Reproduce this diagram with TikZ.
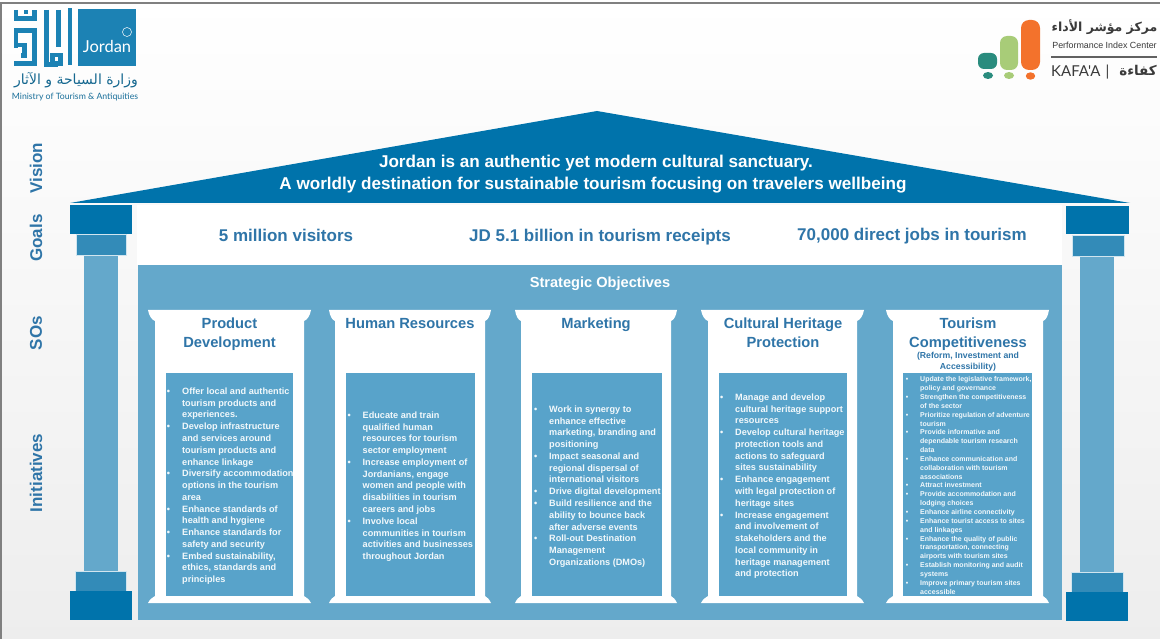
\documentclass[tikz,border=0pt]{standalone}
\usepackage{fontspec}
\setmainfont{Liberation Sans}
\newfontfamily\arabicfont[Script=Arabic]{DejaVu Sans}
\newfontfamily\logofont{Lato}
\TeXXeTstate=1
\definecolor{panelblue}{HTML}{64A8CB}
\definecolor{innerblue}{HTML}{58A3CA}
\definecolor{midblue}{HTML}{338BB8}
\definecolor{darkblue}{HTML}{0073AB}
\definecolor{titleblue}{HTML}{2F75A8}
\definecolor{logoblue}{HTML}{1C82B4}
\definecolor{framegray}{HTML}{808080}
\definecolor{greytext}{HTML}{3A3A3A}
\definecolor{kteal}{HTML}{2A8C7E}
\definecolor{kgreen}{HTML}{A8CC78}
\definecolor{korange}{HTML}{F3722C}
\tikzset{
  pillar/.style={draw=white!70!panelblue,line width=.5pt},
  goaltext/.style={font=\fontsize{17}{20}\selectfont\bfseries,text=titleblue,inner sep=0},
  rooftext/.style={font=\fontsize{17.1}{20}\selectfont\bfseries,text=white,inner sep=0},
  sidelabel/.style={font=\fontsize{17}{18}\selectfont\bfseries,text=titleblue,rotate=90,inner sep=0},
  coltitle/.style={font=\fontsize{14.7}{18.2}\selectfont\bfseries,text=titleblue,align=center,inner sep=0,anchor=north},
  bullets/.style={font=\fontsize{9.15}{11.77}\selectfont\bfseries,text=white!92!innerblue,align=left,inner sep=0,anchor=north west},
  smallbullets/.style={font=\fontsize{7}{8.85}\selectfont\bfseries,text=white!92!innerblue,align=left,inner sep=0,anchor=north west},
  kufic/.style={draw=logoblue,line width=4.8pt,line cap=butt,line join=miter},
}
\newcommand{\itm}[1]{\llap{\textbullet\hspace{#1}}}
% cap left, cap right, shaft left, shaft right, inner left, inner right
\newcommand{\templecolumn}[6]{
  \fill[white] (#1,310) -- (#2,310) .. controls (#2-1,316) and (#4+3,320) .. (#4,321)
    -- (#4,596) .. controls (#4+3,598) and (#2-2,599) .. (#2,603) -- (#1,603)
    .. controls (#1+2,599) and (#3-3,598) .. (#3,596) -- (#3,321)
    .. controls (#3-3,320) and (#1+1,316) .. (#1,310) -- cycle;
  \fill[innerblue] (#5,373) rectangle (#6,596);
}
\begin{document}
\begin{tikzpicture}[x=1pt,y=-1pt]
\useasboundingbox (0,0) rectangle (1160,639);
% page
\shade[top color=white,bottom color=white!93!black] (0,0) rectangle (1160,639);
\fill[framegray] (0,2) rectangle (1160,4);
\fill[framegray] (0,2) rectangle (2,639);
% roof and bands
\fill[darkblue] (70,203) -- (597,111) -- (1130,203) -- cycle;
\fill[white] (137,205) rectangle (1062,265);
\fill[panelblue] (138,265) rectangle (1062,620);
% left pillar
\fill[panelblue] (84,255) rectangle (118,571);
\filldraw[fill=midblue,pillar] (76,234) rectangle (126,255);
\fill[darkblue] (70,205) rectangle (132,234);
\filldraw[fill=midblue,pillar] (75,571) rectangle (126,592);
\fill[darkblue] (70,591) rectangle (132,620);
% right pillar
\fill[panelblue] (1080,256) rectangle (1114,572);
\filldraw[fill=midblue,pillar] (1072,235) rectangle (1124,256);
\fill[darkblue] (1066,206) rectangle (1129,234);
\filldraw[fill=midblue,pillar] (1071,572) rectangle (1123,592);
\fill[darkblue] (1066,592) rectangle (1128,621);
% columns
\templecolumn{148}{311}{155}{304}{166}{293}
\templecolumn{329}{491}{335}{485}{346}{475}
\templecolumn{515}{677}{521}{671}{532}{662}
\templecolumn{701}{864}{708}{857}{719}{847}
\templecolumn{886}{1049}{893}{1043}{903}{1032}
% roof and goal text
\node[rooftext] (visionA) at (596,163) {Jordan is an authentic yet modern cultural sanctuary.};
\node[rooftext] (visionB) at (593,185) {A worldly destination for sustainable tourism focusing on travelers wellbeing};
\node[goaltext] (goalA) at (286,235) {5 million visitors};
\node[goaltext] (goalB) at (600,237) {JD 5.1 billion in tourism receipts};
\node[goaltext] (goalC) at (912,236) {70,000 direct jobs in tourism};
\node[font=\fontsize{14.6}{16}\selectfont\bfseries,text=white,inner sep=0] (so) at (600,284) {Strategic Objectives};
% side labels
\node[sidelabel] (lvision) at (36,168) {Vision};
\node[sidelabel] (lgoals) at (36,238) {Goals};
\node[sidelabel] (lsos) at (36,333) {SOs};
\node[sidelabel] (linit) at (36,473) {Initiatives};
% column titles
\node[coltitle] (t1) at (229.5,318) {Product\\Development};
\node[coltitle] (t2) at (410,318) {Human Resources};
\node[coltitle] (t3) at (596,318) {Marketing};
\node[coltitle] (t4) at (783,318) {Cultural Heritage\\Protection};
\node[coltitle] (t5) at (968,318) {Tourism\\Competitiveness};
\node[font=\fontsize{8.7}{10.8}\selectfont\bfseries,text=titleblue,align=center,inner sep=0,anchor=north] (t5b) at (968,352) {(Reform, Investment and\\Accessibility)};
% column lists
\node[bullets] (l1) at (182,387.6) {%
\itm{12pt}Offer local and authentic\\tourism products and\\experiences.\\
\itm{12pt}Develop infrastructure\\and services around\\tourism products and\\enhance linkage\\
\itm{12pt}Diversify accommodation\\options in the tourism\\area\\
\itm{12pt}Enhance standards of\\health and hygiene\\
\itm{12pt}Enhance standards for\\safety and security\\
\itm{12pt}Embed sustainability,\\ethics, standards and\\principles};
\node[bullets] (l2) at (362.5,411.5) {%
\itm{12pt}Educate and train\\qualified human\\resources for tourism\\sector employment\\
\itm{12pt}Increase employment of\\Jordanians, engage\\women and people with\\disabilities in tourism\\careers and jobs\\
\itm{12pt}Involve local\\communities in tourism\\activities and businesses\\throughout Jordan};
\node[bullets] (l3) at (549,405.5) {%
\itm{12pt}Work in synergy to\\enhance effective\\marketing, branding and\\positioning\\
\itm{12pt}Impact seasonal and\\regional dispersal of\\international visitors\\
\itm{12pt}Drive digital development\\
\itm{12pt}Build resilience and the\\ability to bounce back\\after adverse events\\
\itm{12pt}Roll-out Destination\\Management\\Organizations (DMOs)};
\node[bullets] (l4) at (735,393.5) {%
\itm{12pt}Manage and develop\\cultural heritage support\\resources\\
\itm{12pt}Develop cultural heritage\\protection tools and\\actions to safeguard\\sites sustainability\\
\itm{12pt}Enhance engagement\\with legal protection of\\heritage sites\\
\itm{12pt}Increase engagement\\and involvement of\\stakeholders and the\\local community in\\heritage management\\and protection};
\node[smallbullets] (l5) at (920,376.5) {%
\itm{12pt}Update the legislative framework,\\policy and governance\\
\itm{12pt}Strengthen the competitiveness\\of the sector\\
\itm{12pt}Prioritize regulation of adventure\\tourism\\
\itm{12pt}Provide informative and\\dependable tourism research\\data\\
\itm{12pt}Enhance communication and\\collaboration with tourism\\associations\\
\itm{12pt}Attract investment\\
\itm{12pt}Provide accommodation and\\lodging choices\\
\itm{12pt}Enhance airline connectivity\\
\itm{12pt}Enhance tourist access to sites\\and linkages\\
\itm{12pt}Enhance the quality of public\\transportation, connecting\\airports with tourism sites\\
\itm{12pt}Establish monitoring and audit\\systems\\
\itm{12pt}Improve primary tourism sites\\accessible};
% left logo
\fill[logoblue] (78,9) rectangle (136,66);
\node[font=\logofont\fontsize{16.5}{18}\selectfont,text=white,inner sep=0] (jordan) at (107,46) {Jordan};
\draw[white,line width=.5pt] (127,32) circle (4.5);
\begin{scope}[shift={(8,5)},x=.3333pt,y=-.3333pt]
  \draw[kufic] (186,10) -- (186,181);
  \draw[kufic] (151,15) -- (151,125);
  \draw[kufic] (116,15) -- (116,178) -- (150,178);
  \draw[kufic] (134,150) rectangle (157,176);
  \draw[kufic] (24,15) -- (24,40) -- (80,40) -- (80,15);
  \fill[logoblue] (48,14) rectangle (61,26);
  \draw[kufic] (24,128) -- (24,76) -- (80,76) -- (80,176) -- (18,176);
  \draw[kufic] (24,120) -- (50,120) -- (50,152) -- (38,152);
\end{scope}
\node[font=\arabicfont\fontsize{14}{16}\selectfont,text=logoblue!80!black,inner sep=0] (minar) at (76,80) {\beginR وزارة السياحة و الآثار\endR};
\node[font=\logofont\fontsize{8.7}{10}\selectfont,text=logoblue!85!black,inner sep=0] (minen) at (75,97) {Ministry of Tourism \& Antiquities};
% right logo
\fill[kteal,rounded corners=6pt] (978,53) rectangle (997,69);
\fill[kgreen,rounded corners=7pt] (1000,36) rectangle (1018,70);
\fill[korange,rounded corners=8pt] (1021,20) rectangle (1040,70);
\fill[kteal] (988,75.5) ellipse (5 and 3.5);
\fill[kgreen] (1009,75.5) ellipse (5 and 3.5);
\fill[korange] (1030.5,76) ellipse (4.7 and 3.7);
\node[font=\arabicfont\bfseries\fontsize{12.5}{15}\selectfont,text=greytext,inner sep=0] (kar) at (1104.5,27) {\beginR مركز مؤشر الأداء\endR};
\node[font=\fontsize{8.9}{10}\selectfont,text=greytext,inner sep=0] (ken) at (1104.5,45.5) {Performance Index Center};
\fill[greytext!80] (1051,56) rectangle (1157,58);
\node[font=\logofont\fontsize{15}{16}\selectfont,text=greytext,inner sep=0,anchor=west] (kafa) at (1051,72) {KAFA'A\hspace{5pt}|};
\node[font=\arabicfont\bfseries\fontsize{13.5}{15}\selectfont,text=greytext,inner sep=0,anchor=east] (kafaar) at (1157,71) {\beginR كفاءة\endR};
\end{tikzpicture}
\end{document}
